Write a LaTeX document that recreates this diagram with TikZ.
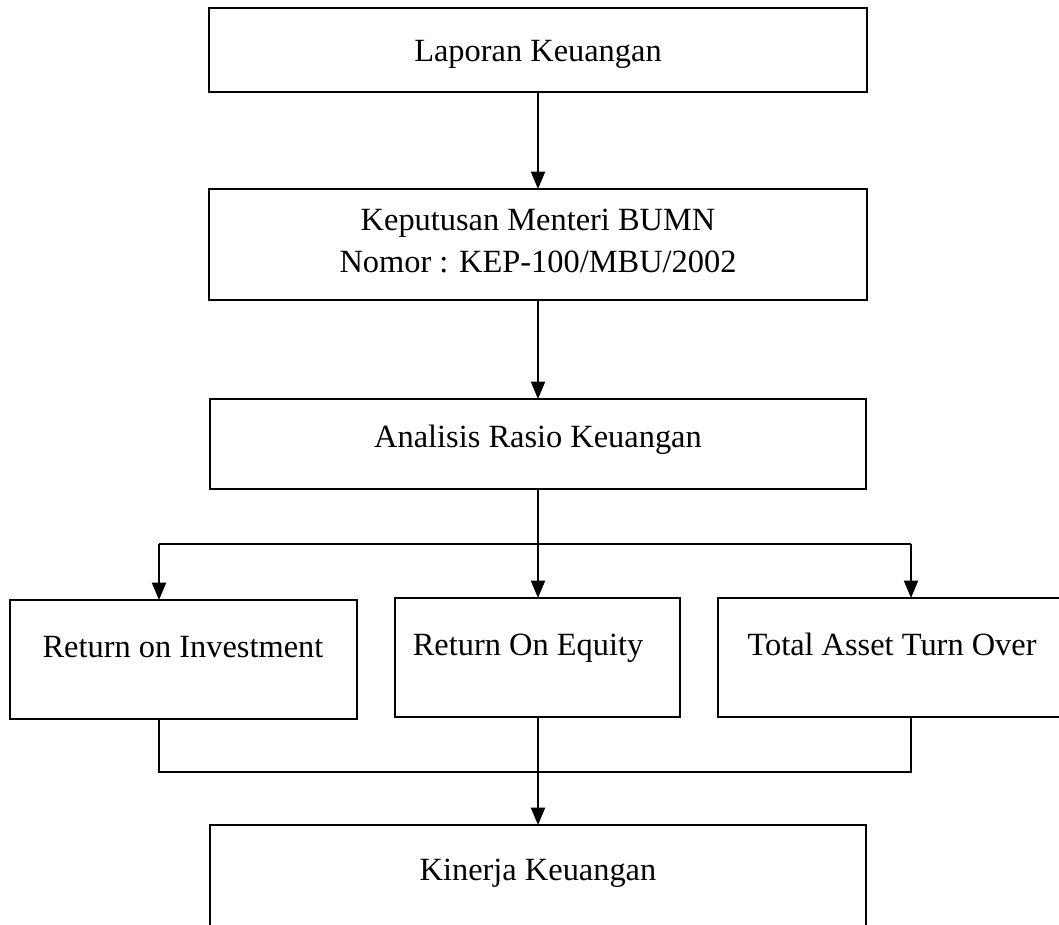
\documentclass[tikz,border=0pt]{standalone}
\usepackage{fontspec}
\setmainfont{Liberation Serif}
\usetikzlibrary{arrows.meta}
\tikzset{
  box/.style={draw=black, line width=1.5pt, inner sep=0pt, outer sep=0pt, fill=white},
  lbl/.style={anchor=base, inner sep=0pt, font=\fontsize{24.3pt}{31.5pt}\selectfont},
  conn/.style={line width=1.5pt},
  arr/.style={line width=1.5pt, -{Triangle[length=13pt,width=10.5pt]}}
}
\newcommand{\bx}[5]{\node[box, minimum width={(#4-#2)*0.75pt}, minimum height={(#5-#3)*0.75pt}] (#1) at ({(#2+#4)/2},{(#3+#5)/2}) {};}
\begin{document}
\begin{tikzpicture}[x=0.75pt,y=-0.75pt]
\useasboundingbox (0,0) rectangle (1059,924);
\fill[white] (0,0) rectangle (1059,924);
\clip (0,0) rectangle (1059,924);
% boxes
\bx{lap}{209}{8}{867}{92}
\bx{kep}{209}{189}{867}{300}
\bx{ana}{210}{399}{866}{489}
\bx{roi}{10}{600}{357}{719}
\bx{roe}{395}{598}{680}{717}
\bx{tat}{718}{598}{1072}{717}
\bx{kin}{210}{825}{866}{940}
% texts
\node[lbl] (t1) at (538,62) {Laporan Keuangan};
\node[lbl] (t2) at (538,230) {Keputusan Menteri BUMN};
\node[lbl] (t3) at (538,272) {Nomor : KEP-100/MBU/2002};
\node[lbl] (t4) at (538,447) {Analisis Rasio Keuangan};
\node[lbl] (t5) at (183,657) {Return on Investment};
\node[lbl] (t6) at (528,655) {Return On Equity};
\node[lbl] (t7) at (892,655) {Total Asset Turn Over};
\node[lbl] (t8) at (538,880) {Kinerja Keuangan};
% connectors
\coordinate (bl) at (159,544);
\coordinate (br) at (911,544);
\coordinate (ml) at (159,772);
\coordinate (mr) at (911,772);
\draw[arr] (lap.south -| 538,0) -- (kep.north -| 538,0);
\draw[arr] (kep.south -| 538,0) -- (ana.north -| 538,0);
\draw[arr] (ana.south -| 538,0) -- (roe.north -| 538,0);
\draw[conn] (bl) -- (br);
\draw[arr] (bl) -- (bl |- roi.north);
\draw[arr] (br) -- (br |- tat.north);
\draw[conn] (roi.south -| ml) -- (ml) -- (mr) -- (tat.south -| mr);
\draw[arr] (roe.south -| 538,0) -- (kin.north -| 538,0);
\end{tikzpicture}
\end{document}
